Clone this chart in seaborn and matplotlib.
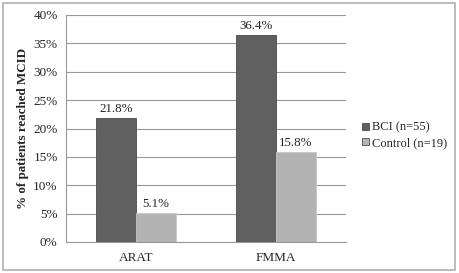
import pandas as pd
import matplotlib
matplotlib.use('Agg')
import matplotlib.pyplot as plt
import seaborn as sns
from matplotlib.ticker import PercentFormatter
from matplotlib.patches import Rectangle

# data
measures = ['ARAT', 'FMMA']
groups = ['BCI (n=55)', 'Control (n=19)']
bci_pct = [21.8, 36.4]
control_pct = [5.1, 15.8]

df = pd.DataFrame({
    'Measure': measures * 2,
    'Group': [groups[0]] * 2 + [groups[1]] * 2,
    'Pct': bci_pct + control_pct,
})

sns.set_style('white')
plt.rcParams['font.family'] = ['Liberation Serif', 'DejaVu Serif']

fig = plt.figure(figsize=(4.59, 2.73), dpi=100)
ax = fig.add_axes([66 / 459, 1 - 242 / 273, 280 / 459, 227 / 273])

sns.barplot(data=df, x='Measure', y='Pct', hue='Group', ax=ax,
            palette=['#606060', '#b3b3b3'], width=0.565, saturation=1,
            edgecolor='#4a4a4a', linewidth=0.6, zorder=3)
# lighter edge for control bars
for cont in ax.containers[1:]:
    for b in cont:
        b.set_edgecolor('#c8c8c8')

for cont in ax.containers:
    ax.bar_label(cont, labels=[f'{v:.1f}%' for v in cont.datavalues],
                 padding=2.5, fontsize=9.3, color='#222222')

ax.set_ylim(0, 40)
ax.set_yticks(range(0, 41, 5))
ax.yaxis.set_major_formatter(PercentFormatter(decimals=0))
ax.grid(axis='y', color='#999999', linewidth=0.8, zorder=0)
ax.set_axisbelow(True)
for s in ['top', 'right']:
    ax.spines[s].set_visible(False)
for s in ['left', 'bottom']:
    ax.spines[s].set_color('#999999')
    ax.spines[s].set_linewidth(0.8)
ax.tick_params(axis='y', length=3, color='#999999', labelsize=9.5, pad=3)
ax.tick_params(axis='x', length=0, labelsize=9.5, pad=7)
ax.set_xlabel('')
ax.set_ylabel('% of patients reached MCID', fontsize=9.4, fontweight='bold', labelpad=3)

ax.legend(loc='center left', bbox_to_anchor=(1.04, 0.47), frameon=False,
          fontsize=9, handlelength=0.55, handleheight=0.55, handletextpad=0.25,
          labelspacing=0.25, borderaxespad=0)

# outer frame around the figure
fig.patches.append(Rectangle((3 / 459, 3 / 273), 452 / 459, 267 / 273,
                             transform=fig.transFigure, fill=False,
                             edgecolor='#b0b0b0', linewidth=1.2))

fig.savefig('out.png', dpi=100)
